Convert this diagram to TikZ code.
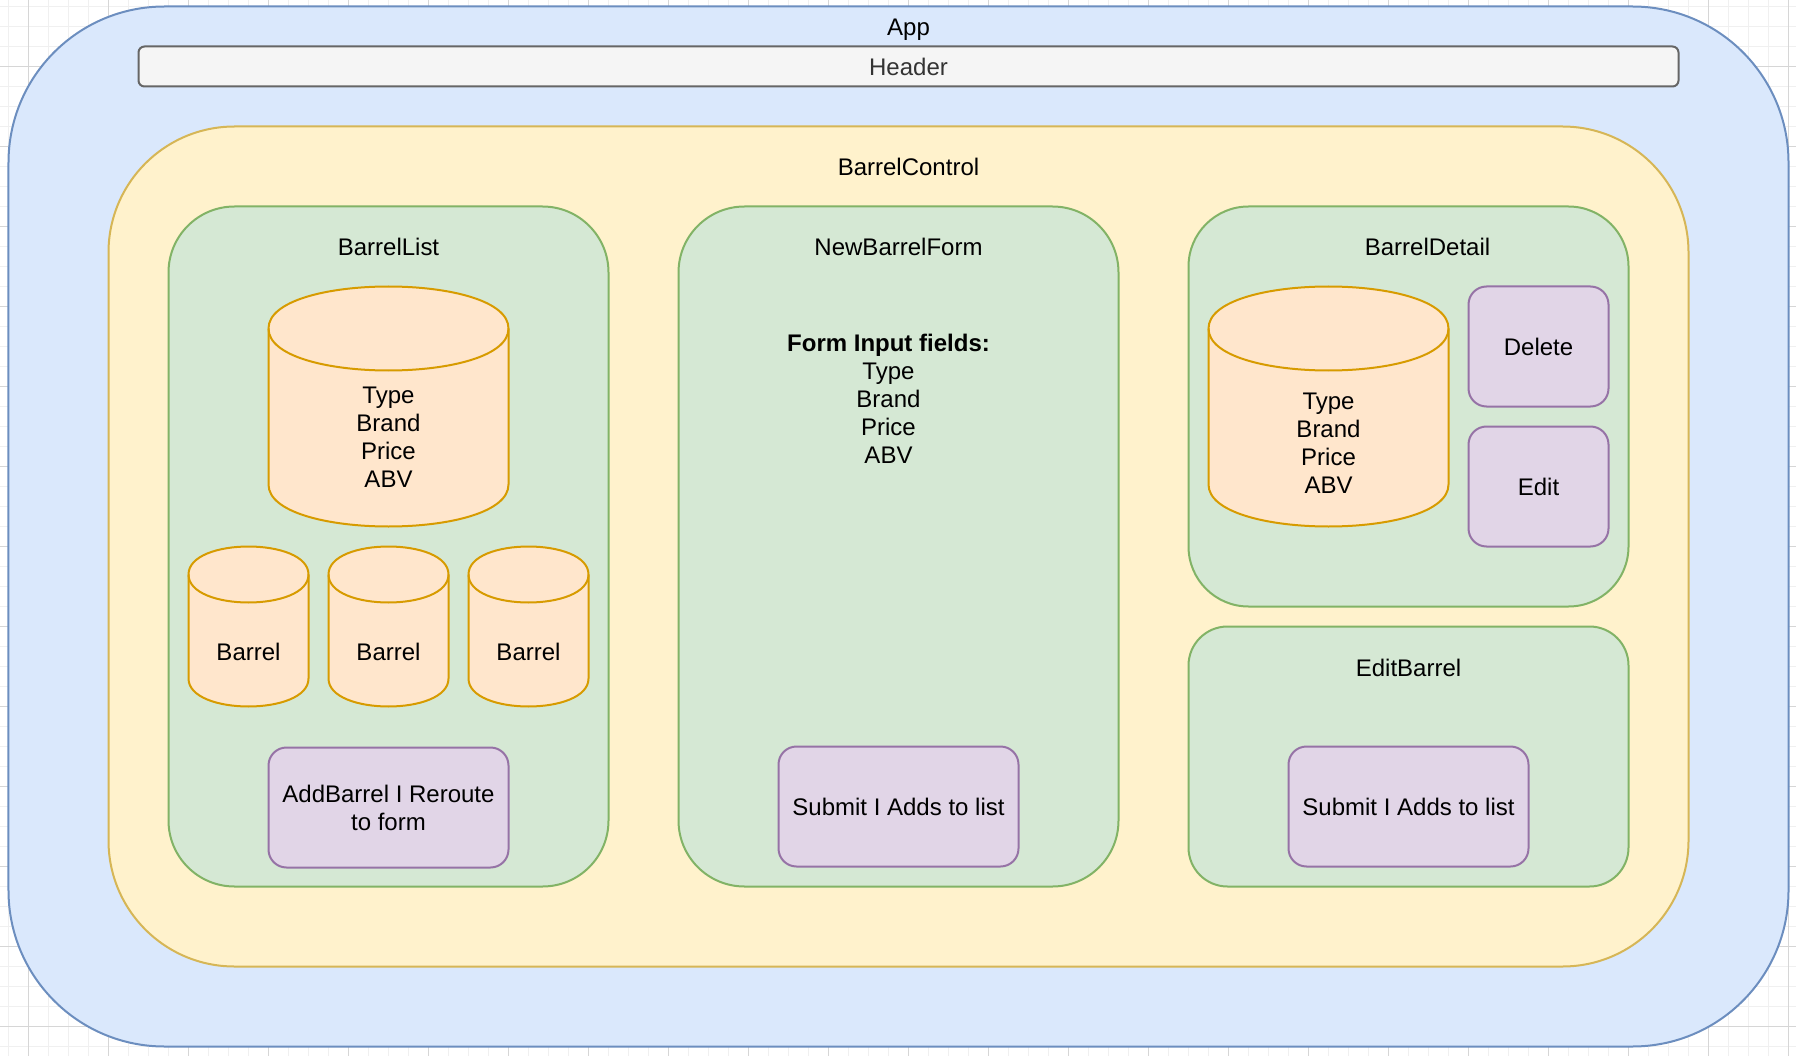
\documentclass[tikz,border=0pt]{standalone}
\usepackage{fontspec}
\setmainfont{Liberation Sans}

\definecolor{appfill}{HTML}{DAE8FC}
\definecolor{appline}{HTML}{6C8EBF}
\definecolor{ctrlfill}{HTML}{FFF2CC}
\definecolor{ctrlline}{HTML}{D6B656}
\definecolor{compfill}{HTML}{D5E8D4}
\definecolor{compline}{HTML}{82B366}
\definecolor{barfill}{HTML}{FFE6CC}
\definecolor{barline}{HTML}{D79B00}
\definecolor{btnfill}{HTML}{E1D5E7}
\definecolor{btnline}{HTML}{9673A6}
\definecolor{hdrfill}{HTML}{F5F5F5}
\definecolor{hdrline}{HTML}{666666}
\definecolor{hdrtext}{HTML}{333333}
\definecolor{gridlight}{HTML}{F0F0F0}
\definecolor{griddark}{HTML}{D6D6D6}

\tikzset{
  every node/.style={font=\fontsize{24}{28}\selectfont},
  gridminor/.style={draw=gridlight, line width=1pt},
  gridmajor/.style={draw=griddark, line width=1pt},
  appbox/.style={draw=appline, fill=appfill, line width=2pt, rounded corners=156pt},
  ctrlbox/.style={draw=ctrlline, fill=ctrlfill, line width=2pt, rounded corners=126pt},
  compbox/.style={draw=compline, fill=compfill, line width=2pt},
  hdrbox/.style={draw=hdrline, fill=hdrfill, line width=2pt, rounded corners=6pt, text=hdrtext},
  btnbox/.style={draw=btnline, fill=btnfill, line width=2pt, rounded corners=18pt,
    minimum width=240pt, minimum height=120pt, align=center, inner sep=0pt},
  barrelbox/.style={draw=barline, fill=barfill, line width=2pt},
  title/.style={anchor=base, inner sep=0pt},
  bodytext/.style={align=center, inner sep=0pt}
}

% x y width height cap
\newcommand\drawbarrel[5]{%
  \draw[barrelbox] (#1,#2+#5) .. controls (#1,#2-#5/3) and (#1+#3,#2-#5/3) .. (#1+#3,#2+#5)
    -- (#1+#3,#2+#4-#5) .. controls (#1+#3,#2+#4+#5/3) and (#1,#2+#4+#5/3) .. (#1,#2+#4-#5) -- cycle;
  \draw[barrelbox, fill=none] (#1,#2+#5) .. controls (#1,#2+7*#5/3) and (#1+#3,#2+7*#5/3) .. (#1+#3,#2+#5);}

\begin{document}
\begin{tikzpicture}[x=2pt,y=-2pt]
\useasboundingbox (-4.25,-3.25) rectangle (893.75,524.75);

% grid
\foreach \i in {0,10,...,890} \draw[gridminor] (\i,-3.25) -- (\i,524.75);
\foreach \j in {0,10,...,520} \draw[gridminor] (-4.25,\j) -- (893.75,\j);
\foreach \i in {10,50,...,890} \draw[gridmajor] (\i,-3.25) -- (\i,524.75);
\foreach \j in {30,70,...,510} \draw[gridmajor] (-4.25,\j) -- (893.75,\j);

% app
\node[appbox, minimum width=1780pt, minimum height=1040pt] (app) at (445,260) {};
\node[title] (applbl) at (450,14.75) {App};
\node[hdrbox, minimum width=1540pt, minimum height=40pt, inner sep=0pt] (header) at (450,30) {Header};

% barrel control
\node[ctrlbox, minimum width=1580pt, minimum height=840pt] (ctrl) at (445,270) {};
\node[title] (ctrllbl) at (450,84.75) {BarrelControl};

% barrel list
\node[compbox, rounded corners=66pt, minimum width=440pt, minimum height=680pt] (list) at (190,270) {};
\node[title] (listlbl) at (190,124.75) {BarrelList};
\drawbarrel{130}{140}{120}{120}{21}
\node[bodytext] (listrec) at (190,215.6) {Type\\Brand\\Price\\ABV};
\foreach \n/\bx in {1/90,2/160,3/230} {
  \drawbarrel{\bx}{270}{60}{80}{14}
  \node[bodytext] (barrel\n) at (\bx+30,322.8) {Barrel};
}
\node[btnbox] (addbtn) at (190,400.5) {AddBarrel I Reroute\\to form};

% new barrel form
\node[compbox, rounded corners=66pt, minimum width=440pt, minimum height=680pt] (form) at (445,270) {};
\node[title] (formlbl) at (445,124.75) {NewBarrelForm};
\node[bodytext] (fields) at (440,196) {\textbf{Form Input fields:}\\Type\\Brand\\Price\\ABV};
\node[btnbox] (submitnew) at (445,400) {Submit I Adds to list};

% barrel detail
\node[compbox, rounded corners=60pt, minimum width=440pt, minimum height=400pt] (detail) at (700,200) {};
\node[title] (detaillbl) at (709.5,124.75) {BarrelDetail};
\drawbarrel{600}{140}{120}{120}{21}
\node[bodytext] (detailrec) at (660,218.5) {Type\\Brand\\Price\\ABV};
\node[btnbox, minimum width=140pt] (deletebtn) at (765,170) {Delete};
\node[btnbox, minimum width=140pt] (editbtn) at (765,240) {Edit};

% edit barrel
\node[compbox, rounded corners=39pt, minimum width=440pt, minimum height=260pt] (edit) at (700,375) {};
\node[title] (editlbl) at (700,334.75) {EditBarrel};
\node[btnbox] (submitedit) at (700,400) {Submit I Adds to list};
\end{tikzpicture}
\end{document}
